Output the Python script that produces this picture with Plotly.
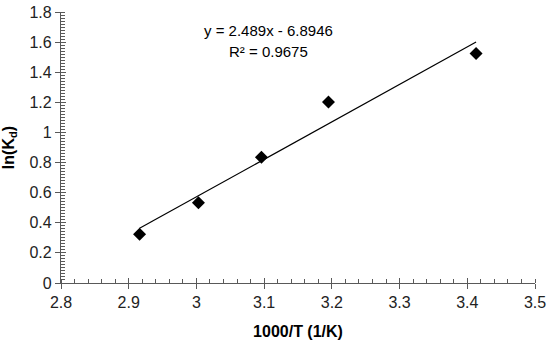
import plotly.graph_objects as go

x_vals = [2.916, 3.003, 3.096, 3.195, 3.413]
y_vals = [0.324, 0.533, 0.835, 1.203, 1.525]
slope = 2.489
intercept = -6.8946
eq_text = "y = 2.489x - 6.8946"
r2_text = "R² = 0.9675"
x_ticks = [2.8, 2.9, 3.0, 3.1, 3.2, 3.3, 3.4, 3.5]
x_tick_labels = ["2.8", "2.9", "3", "3.1", "3.2", "3.3", "3.4", "3.5"]
y_ticks = [0, 0.2, 0.4, 0.6, 0.8, 1.0, 1.2, 1.4, 1.6, 1.8]
y_tick_labels = ["0", "0.2", "0.4", "0.6", "0.8", "1", "1.2", "1.4", "1.6", "1.8"]

fit_x = [min(x_vals), max(x_vals)]
fit_y = [slope * v + intercept for v in fit_x]

axis_color = "#595959"
font_fam = "Liberation Sans, Arial, sans-serif"

fig = go.Figure()
fig.add_trace(go.Scatter(x=fit_x, y=fit_y, mode="lines",
                         line=dict(color="black", width=1.2), showlegend=False))
fig.add_trace(go.Scatter(x=x_vals, y=y_vals, mode="markers",
                         marker=dict(symbol="diamond", size=10, color="black"),
                         showlegend=False))
fig.add_trace(go.Scatter(x=[2.8], y=[0], xaxis="x2", yaxis="y2", mode="markers",
                         marker=dict(opacity=0), showlegend=False, hoverinfo="skip"))

common = dict(showgrid=False, zeroline=False, showline=True, linecolor=axis_color,
              linewidth=1.3, tickcolor=axis_color, tickwidth=1.3, ticklen=5,
              ticks="outside", automargin=False,
              tickfont=dict(family=font_fam, size=16, color="#222"))

fig.update_layout(
    width=550, height=342,
    margin=dict(l=61, r=15, t=12, b=59),
    paper_bgcolor="white", plot_bgcolor="white",
    font=dict(family=font_fam, color="black"),
    xaxis=dict(range=[2.8, 3.5], tickvals=x_ticks, ticktext=x_tick_labels,
               title=dict(text="<b>1000/T (1/K)</b>", font=dict(size=16, family=font_fam)),
               minor=dict(dtick=0.02, tick0=2.8, ticks="inside", ticklen=4,
                          tickcolor=axis_color, tickwidth=1.3),
               **common),
    yaxis=dict(range=[0, 1.8], tickvals=y_ticks, ticktext=y_tick_labels,
               title=dict(text="<b>ln(K<sub>d</sub>)</b>", font=dict(size=16, family=font_fam)),
               minor=dict(dtick=0.02, tick0=0, ticks="inside", ticklen=4,
                          tickcolor=axis_color, tickwidth=1.3),
               **common),
    xaxis2=dict(range=[2.8, 3.5], overlaying="x", tickvals=x_ticks, showticklabels=False,
                ticks="inside", ticklen=5, tickcolor=axis_color, tickwidth=1.3, automargin=False,
                showgrid=False, zeroline=False, showline=False, side="bottom", matches="x"),
    yaxis2=dict(range=[0, 1.8], overlaying="y", tickvals=y_ticks, showticklabels=False,
                ticks="inside", ticklen=5, tickcolor=axis_color, tickwidth=1.3, automargin=False,
                showgrid=False, zeroline=False, showline=False, side="left", matches="y"),
    annotations=[
        dict(x=3.107, y=1.675, xref="x", yref="y", text=eq_text, showarrow=False,
             font=dict(size=15, family=font_fam, color="black")),
        dict(x=3.107, y=1.535, xref="x", yref="y", text=r2_text, showarrow=False,
             font=dict(size=15, family=font_fam, color="black")),
    ],
)

fig.write_html("out.html", config={"displayModeBar": False},
               post_script="document.body.style.margin='0';document.body.style.padding='0';")
